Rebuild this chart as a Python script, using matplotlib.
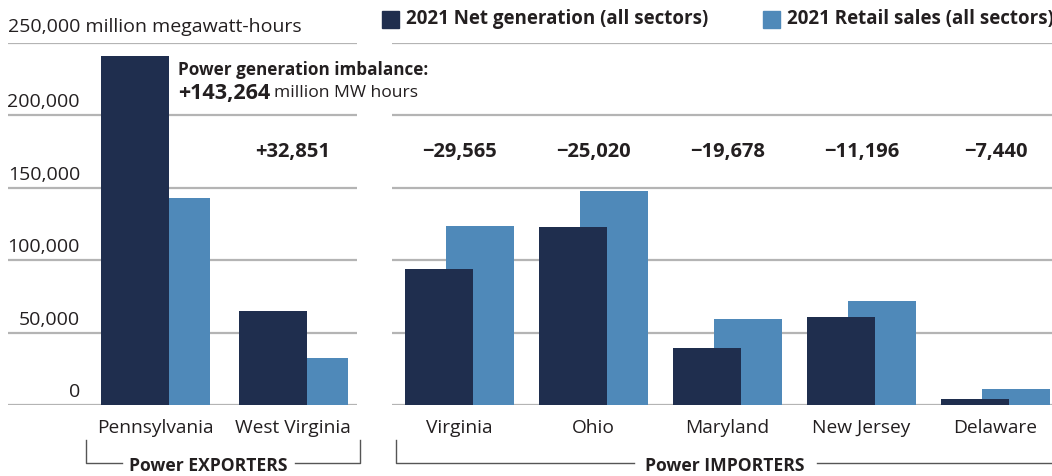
import matplotlib
matplotlib.use("Agg")
import matplotlib.pyplot as plt
from matplotlib.patches import Rectangle
from matplotlib.lines import Line2D

# Data (million MWh)
exporters = ["Pennsylvania", "West Virginia"]
exp_net = [241000, 65000]
exp_retail = [143000, 32700]
exp_imbalance = ["+143,264", "+32,851"]

importers = ["Virginia", "Ohio", "Maryland", "New Jersey", "Delaware"]
imp_net = [93900, 122900, 39100, 61000, 3900]
imp_retail = [123600, 148000, 59200, 72000, 11300]
imp_imbalance = ["\u221229,565", "\u221225,020", "\u221219,678", "\u221211,196", "\u22127,440"]

yticks = [0, 50000, 100000, 150000, 200000, 250000]
ytick_labels = ["0", "50,000", "100,000", "150,000", "200,000", ""]

DARK = "#1f2e4e"
LIGHT = "#4f89b9"
GRID = "#b4b4b4"
TXT = "#231f20"
plt.rcParams["font.family"] = ["Open Sans", "DejaVu Sans"]

W, H = 1052, 476
fig = plt.figure(figsize=(W / 100, H / 100), dpi=100)


def fx(px):
    return px / W


def fy(py):
    return 1 - py / H


y_top, y_bot = 43, 405
ax1 = fig.add_axes([fx(8), fy(y_bot), fx(357 - 8), (y_bot - y_top) / H])
ax2 = fig.add_axes([fx(392), fy(y_bot), fx(1052 - 392), (y_bot - y_top) / H])


def style(ax, cats, unit_px, first_px, width_px):
    ax.set_ylim(0, 250000)
    left = -first_px / unit_px
    ax.set_xlim(left, left + width_px / unit_px)
    ax.set_yticks(yticks)
    ax.set_yticklabels([])
    ax.tick_params(axis="y", length=0)
    ax.grid(axis="y", color=GRID, linewidth=1.6, zorder=0)
    ax.set_axisbelow(True)
    for s in ax.spines.values():
        s.set_visible(False)
    ax.set_xticks(range(len(cats)))
    ax.set_xticklabels(cats, fontsize=13.8, color=TXT)
    ax.tick_params(axis="x", length=0, pad=10)


# left panel: 138 px per category, right panel: 134 px per category
style(ax1, exporters, 138, 147, 349)
style(ax2, importers, 134, 67.5, 660)

w1, o1 = 68 / 138, 20.5 / 138
w2, o2 = 68 / 134, 20.5 / 134
x1 = list(range(len(exporters)))
x2 = list(range(len(importers)))
ax1.bar([x + o1 for x in x1], exp_retail, width=w1, color=LIGHT, zorder=2)
ax1.bar([x - o1 for x in x1], exp_net, width=w1, color=DARK, zorder=3)
ax2.bar([x + o2 for x in x2], imp_retail, width=w2, color=LIGHT, zorder=2)
ax2.bar([x - o2 for x in x2], imp_net, width=w2, color=DARK, zorder=3)

# y labels sitting above the gridlines
for v, lab in zip(yticks, ytick_labels):
    fig.text(fx(80), fy(y_bot - (v / 50000) * 72.4 - 13), lab, ha="right", va="center",
             fontsize=14, color=TXT)
fig.text(fx(8), fy(27), "250,000 million megawatt-hours", ha="left", va="center",
         fontsize=14, color=TXT)

# imbalance labels
lab_y = 174700
ax1.text(1, lab_y, exp_imbalance[1], ha="center", va="center", fontsize=14.5,
         fontweight="bold", color=TXT)
for x, lab in zip(x2, imp_imbalance):
    ax2.text(x, lab_y, lab, ha="center", va="center", fontsize=14.5,
             fontweight="bold", color=TXT)

# Pennsylvania annotation
fig.text(fx(178), fy(70), "Power generation imbalance:", ha="left", va="center",
         fontsize=12.3, fontweight="bold", color=TXT)
t_num = fig.text(fx(178), fy(93), exp_imbalance[0], ha="left", va="center",
                 fontsize=15.5, fontweight="bold", color=TXT)
fig.canvas.draw()
bb = t_num.get_window_extent()
fig.text(fx(bb.x1 + 4), fy(93), "million MW hours", ha="left", va="center",
         fontsize=12.6, color=TXT)

# legend
fig.add_artist(Rectangle((fx(382), fy(28)), fx(17), 17 / H, color=DARK,
                         transform=fig.transFigure))
fig.text(fx(406), fy(19), "2021 Net generation (all sectors)", ha="left", va="center",
         fontsize=13.5, fontweight="bold", color=TXT)
fig.add_artist(Rectangle((fx(763), fy(28)), fx(17), 17 / H, color=LIGHT,
                         transform=fig.transFigure))
fig.text(fx(787), fy(19), "2021 Retail sales (all sectors)", ha="left", va="center",
         fontsize=13.5, fontweight="bold", color=TXT)


# group brackets
def line(xs, ys):
    fig.add_artist(Line2D([fx(x) for x in xs], [fy(y) for y in ys], color="#555555",
                          linewidth=1, transform=fig.transFigure))


line([86, 86, 122], [440, 463, 463])
line([295, 360, 360], [463, 463, 440])
fig.text(fx(208), fy(466), "Power EXPORTERS", ha="center", va="center", fontsize=12.6,
         fontweight="bold", color=TXT)
line([396, 396, 634], [440, 463, 463])
line([817, 1052], [463, 463])
fig.text(fx(725), fy(466), "Power IMPORTERS", ha="center", va="center", fontsize=12.6,
         fontweight="bold", color=TXT)

fig.savefig("out.png", dpi=100, facecolor="white")
